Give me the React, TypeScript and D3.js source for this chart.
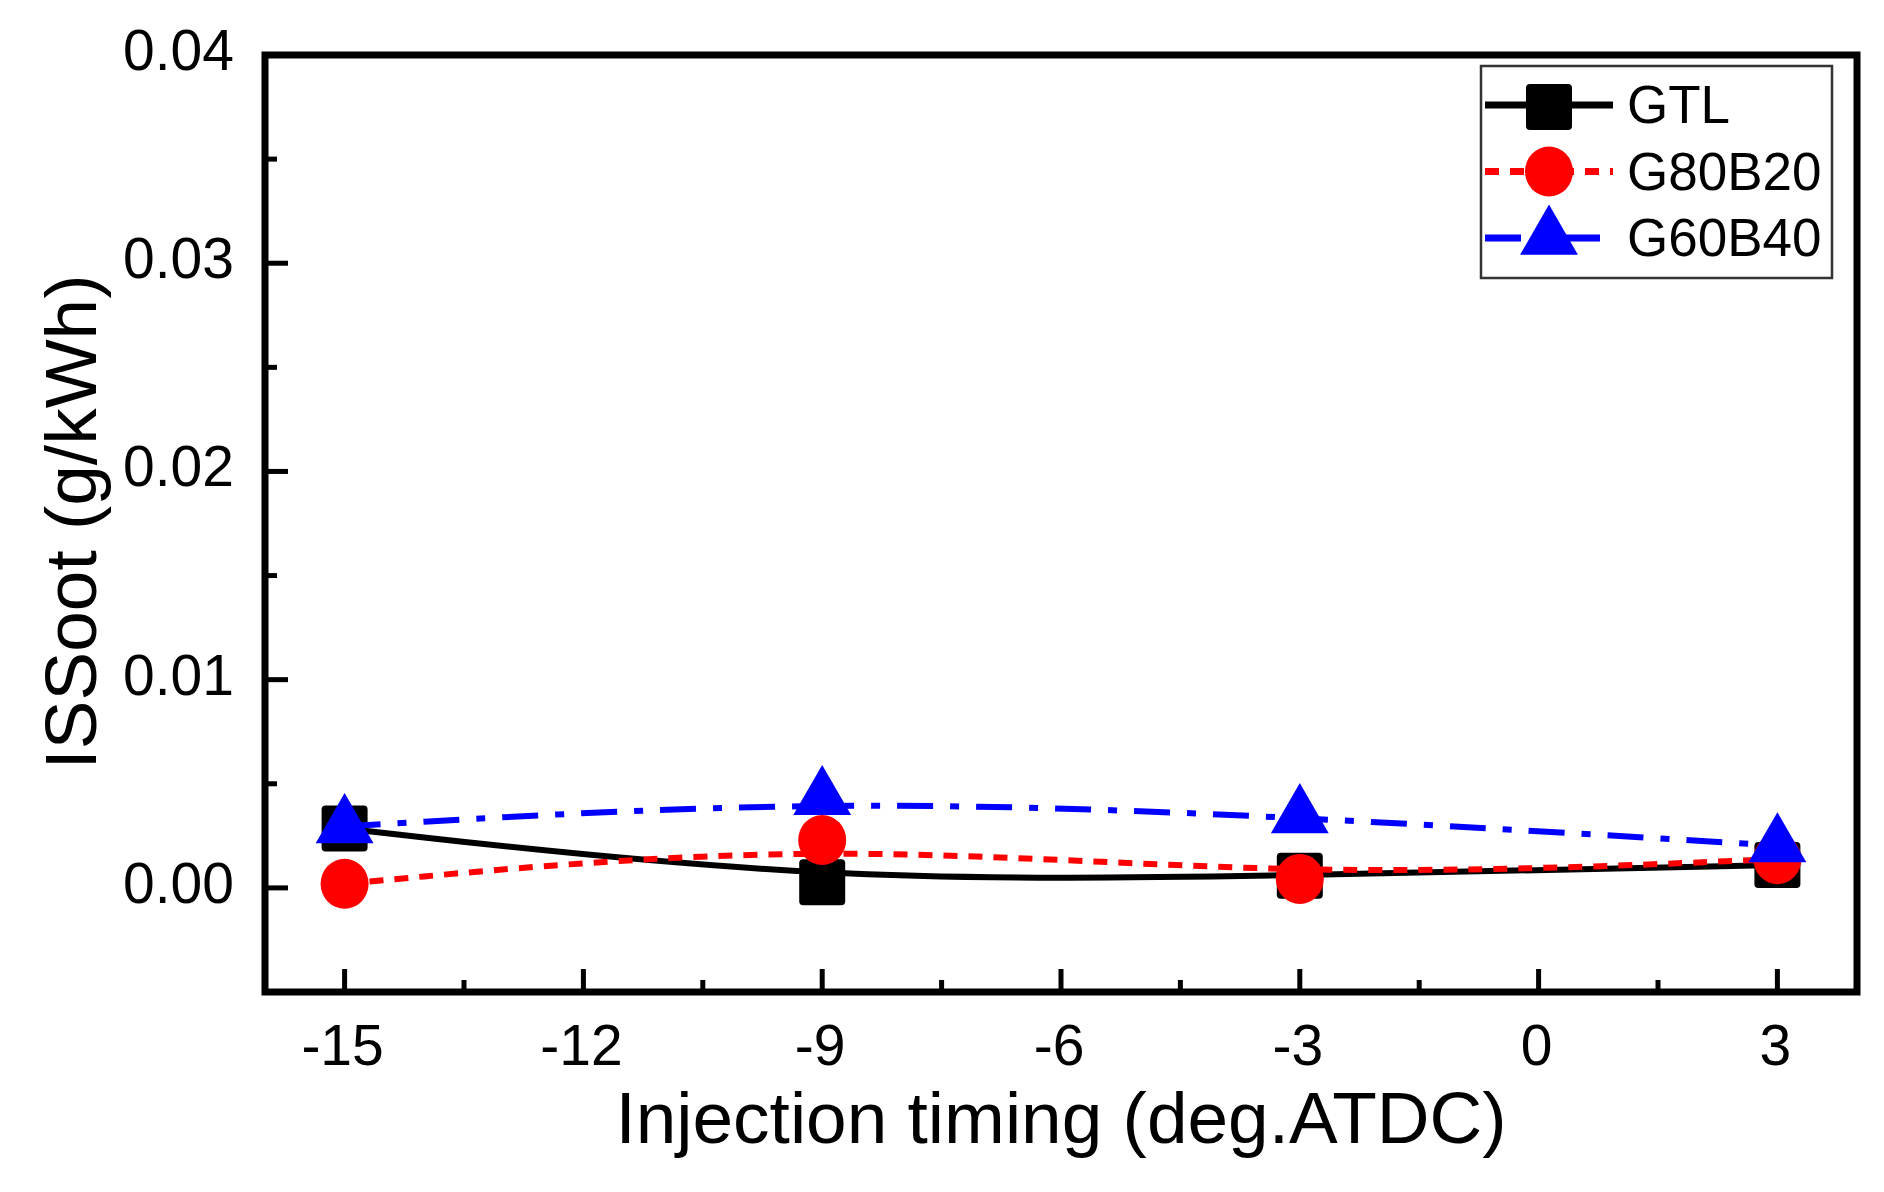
import { useEffect, useRef } from 'react';
import * as d3 from 'd3';

// Injection timing (deg.ATDC) and ISSoot (g/kWh)
const timings = [-15, -9, -3, 3];
const gtl = [0.00285, 0.00027, 0.00058, 0.0011];
const g80b20 = [0.0002, 0.0023, 0.00043, 0.00138];
const g60b40 = [0.00295, 0.0043, 0.00343, 0.00203];

const xTicks = [-15, -12, -9, -6, -3, 0, 3];
const xMinor = [-13.5, -10.5, -7.5, -4.5, -1.5, 1.5];
const yTicks = [0, 0.01, 0.02, 0.03, 0.04];
const yMinor = [0.005, 0.015, 0.025, 0.035];

const names = ['GTL', 'G80B20', 'G60B40'];

const W = 1884, H = 1192;
const FONT = '"Liberation Sans", Arial, sans-serif';

export default function App() {
  const svgRef = useRef<SVGSVGElement>(null);

  useEffect(() => {
    if (!svgRef.current) return;
    const svg = d3.select(svgRef.current);
    svg.selectAll('*').remove();

    const x = d3.scaleLinear().domain([-16, 4]).range([265, 1857]);
    const y = d3.scaleLinear().domain([-0.005, 0.04]).range([992, 55]);

    const series = [
      { name: names[0], values: gtl, color: '#000000', dash: null, shape: 'square' },
      { name: names[1], values: g80b20, color: '#ff0000', dash: '14,11', shape: 'circle' },
      { name: names[2], values: g60b40, color: '#0000ff', dash: '36,17,9,17', shape: 'triangle' },
    ];

    const marker = (g: any, shape: string, cx: number, cy: number, color: string) => {
      if (shape === 'square') {
        g.append('rect').attr('x', cx - 23).attr('y', cy - 23).attr('width', 46).attr('height', 46)
          .attr('rx', 4).attr('fill', color);
      } else if (shape === 'circle') {
        g.append('ellipse').attr('cx', cx).attr('cy', cy).attr('rx', 24).attr('ry', 25).attr('fill', color);
      } else {
        g.append('path').attr('transform', `translate(${cx},${cy})`)
          .attr('d', d3.symbol().type(d3.symbolTriangle).size(1450)()!)
          .attr('fill', color);
      }
    };

    const plot = svg.append('g');

    // ticks (inward)
    const ticks = plot.append('g').attr('stroke', '#000').attr('stroke-width', 5);
    xTicks.forEach(t => ticks.append('line').attr('x1', x(t)).attr('x2', x(t)).attr('y1', 992).attr('y2', 992 - 23));
    xMinor.forEach(t => ticks.append('line').attr('x1', x(t)).attr('x2', x(t)).attr('y1', 992).attr('y2', 992 - 12));
    yTicks.forEach(t => ticks.append('line').attr('x1', 265).attr('x2', 265 + 23).attr('y1', y(t)).attr('y2', y(t)));
    yMinor.forEach(t => ticks.append('line').attr('x1', 265).attr('x2', 265 + 12).attr('y1', y(t)).attr('y2', y(t)));

    // series
    series.forEach(s => {
      const pts = timings.map((t, i) => [x(t), y(s.values[i])] as [number, number]);
      const line = d3.line().curve(d3.curveBasis);
      plot.append('path').attr('d', line(pts)!).attr('fill', 'none')
        .attr('stroke', s.color).attr('stroke-width', 6)
        .attr('stroke-dasharray', s.dash);
      pts.forEach(p => marker(plot, s.shape, p[0], p[1], s.color));
    });

    // frame
    plot.append('rect').attr('x', 265).attr('y', 55).attr('width', 1857 - 265).attr('height', 992 - 55)
      .attr('fill', 'none').attr('stroke', '#000').attr('stroke-width', 7);

    // tick labels
    const labels = svg.append('g').attr('font-family', FONT).attr('font-size', 57).attr('fill', '#000');
    yTicks.forEach(t => labels.append('text').attr('x', 234).attr('y', y(t) + 15)
      .attr('text-anchor', 'end').text(d3.format('.2f')(t)));
    xTicks.forEach(t => labels.append('text').attr('x', x(t) - 2).attr('y', 1065)
      .attr('text-anchor', 'middle').text(String(t)));

    // axis titles
    svg.append('text').attr('x', 1061).attr('y', 1143).attr('text-anchor', 'middle')
      .attr('font-family', FONT).attr('font-size', 73).text('Injection timing (deg.ATDC)');
    svg.append('text').attr('transform', 'translate(96,522) rotate(-90)').attr('text-anchor', 'middle')
      .attr('font-family', FONT).attr('font-size', 73).text('ISSoot (g/kWh)');

    // legend
    const lg = svg.append('g');
    lg.append('rect').attr('x', 1481).attr('y', 66).attr('width', 351).attr('height', 212)
      .attr('fill', '#fff').attr('stroke', '#333').attr('stroke-width', 2.5);
    series.forEach((s, i) => {
      const ly = 105 + i * 66.5;
      const x2 = s.shape === 'triangle' ? 1600 : 1613;
      lg.append('line').attr('x1', 1485).attr('x2', x2).attr('y1', ly).attr('y2', ly)
        .attr('stroke', s.color).attr('stroke-width', 7).attr('stroke-dasharray', s.dash);
      marker(lg, s.shape, 1549, s.shape === 'square' ? ly + 2 : ly, s.color);
      lg.append('text').attr('x', 1627).attr('y', ly + 18).attr('font-family', FONT)
        .attr('font-size', 53).text(s.name);
    });
  }, []);

  return (
    <svg ref={svgRef} width={W} height={H} viewBox={`0 0 ${W} ${H}`}
      style={{ position: 'absolute', left: 0, top: 0, background: '#fff', display: 'block' }} />
  );
}
